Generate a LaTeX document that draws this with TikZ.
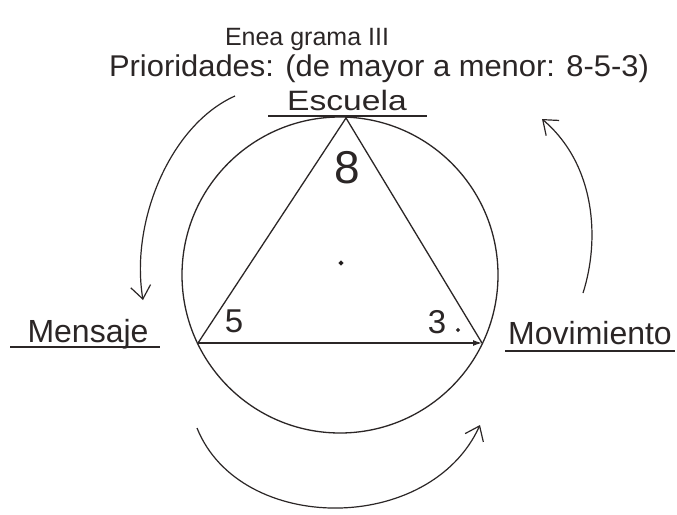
\documentclass[tikz,border=0pt]{standalone}
\usepackage{fontspec}
\setmainfont{Liberation Sans}
\usetikzlibrary{arrows.meta}
\definecolor{ink}{HTML}{2B2626}
\begin{document}
\begin{tikzpicture}[x=1pt,y=-1pt,
  ink/.style={draw=ink,line width=1.3pt},
  lbl/.style={text=ink,inner sep=0pt,anchor=base,font=\fontsize{32}{36}\selectfont},
  num/.style={text=ink,inner sep=0pt,anchor=base},
  flow/.style={ink,line width=1.2pt,-{Straight Barb[length=13pt,width=20pt,line width=1.2pt]}},
  uline/.style={draw=ink,line width=1.3pt}]
\useasboundingbox (0,0) rectangle (677,514);
\fill[white] (0,0) rectangle (677,514);

% titles
\node[lbl,font=\fontsize{25}{30}\selectfont] (title) at (307,45) {Enea grama III};
\node[lbl,font=\fontsize{30}{36}\selectfont,xscale=1.03] (prio) at (379,76) {Prioridades: (de mayor a menor: 8-5-3)};

% circle and triangle
\node[ink,circle,minimum size=316pt,inner sep=0pt] (circ) at (340,275) {};
\coordinate (T) at (346,118);
\coordinate (L) at (198,343);
\coordinate (R) at (482,343);
\draw[ink] (L) -- (T) -- (R);
\draw[ink,-{Latex[length=9pt,width=6pt]}] (L) -- (R);
\fill[ink] (341,263) circle (1.8);

% numbers
\node[num,font=\fontsize{46}{50}\selectfont] (n8) at (347,183) {8};
\node[num,font=\fontsize{33}{36}\selectfont] (n5) at (234,332) {5};
\node[num,font=\fontsize{33}{36}\selectfont] (n3) at (437,333) {3};
\fill[ink] (458,330) circle (1.2);

% labels with underlines
\node[lbl,font=\fontsize{28}{32}\selectfont,xscale=1.2] (esc) at (347,110) {Escuela};
\coordinate (e1) at (268,116); \coordinate (e2) at (427,116);
\draw[uline] (e1) -- (e2);

\node[lbl] (men) at (88,342) {Mensaje};
\coordinate (m1) at (10,347); \coordinate (m2) at (160,347);
\draw[uline] (m1) -- (m2);

\node[lbl] (mov) at (590,344) {Movimiento};
\coordinate (v1) at (505,351); \coordinate (v2) at (675,351);
\draw[uline] (v1) -- (v2);

% circulation arrows
\coordinate (a1s) at (235,96);   \coordinate (a1e) at (143,300);
\coordinate (a2s) at (583,293);  \coordinate (a2e) at (542,119);
\coordinate (a3s) at (197,428);  \coordinate (a3e) at (480,425);
\draw[flow] (a1s) .. controls (170,125) and (130,222) .. (a1e);
\draw[flow] (a2s) .. controls (600,240) and (596,165) .. (a2e);
\draw[flow] (a3s) .. controls (240,535) and (430,535) .. (a3e);
\end{tikzpicture}
\end{document}
